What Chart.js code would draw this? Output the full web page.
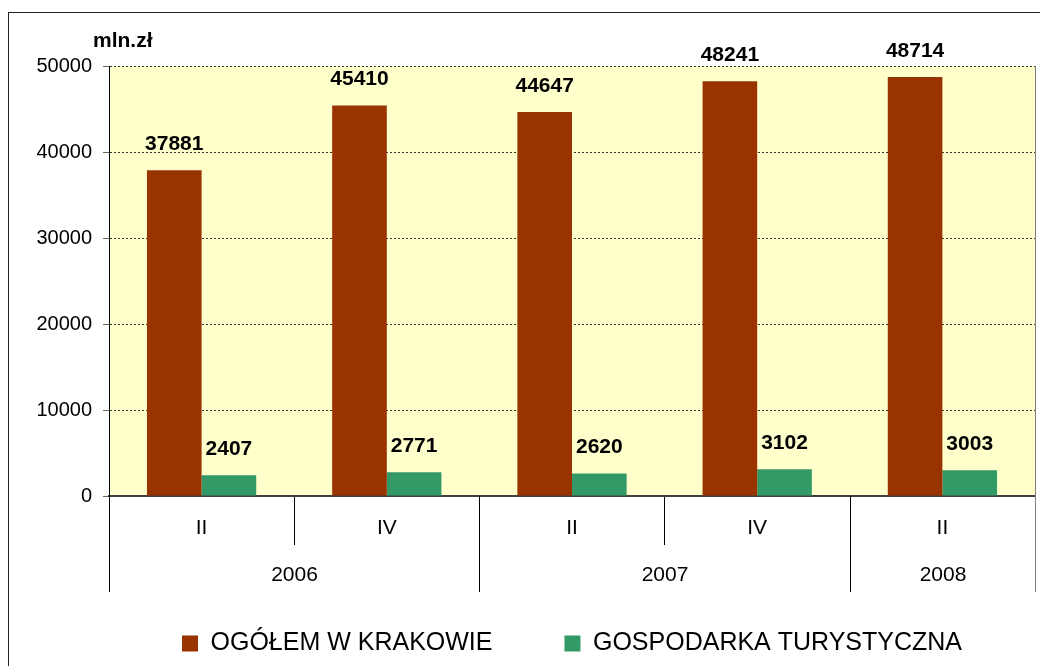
<!DOCTYPE html>
<html lang="pl">
<head>
<meta charset="utf-8">
<title>Kraków - ogółem i gospodarka turystyczna</title>
<script src="https://cdn.jsdelivr.net/npm/chart.js@4.4.1/dist/chart.umd.min.js"></script>
<style>
    html, body { margin: 0; padding: 0; background: #fff; }
    #wrap { position: relative; width: 1040px; height: 666px; }
</style>
</head>
<body>
<div id="wrap"><canvas id="chart"></canvas></div>
<script>
// ---- data ----
const quarters = ['II', 'IV', 'II', 'IV', 'II'];
const quarterYears = ['2006', '2006', '2007', '2007', '2008'];
const totalKrakow = [37881, 45410, 44647, 48241, 48714];
const tourism = [2407, 2771, 2620, 3102, 3003];
const yTicks = [0, 10000, 20000, 30000, 40000, 50000];

const FONT = "'Liberation Sans', Arial, sans-serif";

// is the line before category i the start of a new year?
const yearEdge = i => i <= 0 || i >= quarters.length || quarterYears[i] !== quarterYears[i - 1];

// frame round the whole chart + yellow plot area
const framePlugin = {
    id: 'frame',
    beforeDraw(chart) {
        const { ctx, chartArea: a } = chart;
        ctx.save();
        ctx.strokeStyle = '#222';
        ctx.lineWidth = 1;
        ctx.strokeRect(8.5, 12.5, 1200, 1000);
        ctx.fillStyle = '#FFFFCC';
        ctx.fillRect(a.left, a.top, a.right - a.left, a.bottom - a.top);
        ctx.restore();
    }
};

// year row under the quarter labels
const yearRowPlugin = {
    id: 'yearRow',
    afterDraw(chart) {
        const { ctx, chartArea: a } = chart;
        const x = chart.scales.x;
        const edge = i => {
            if (i <= 0) return a.left;
            if (i >= quarters.length) return a.right;
            return (x.getPixelForTick(i - 1) + x.getPixelForTick(i)) / 2;
        };
        ctx.save();
        ctx.lineWidth = 1;
        ctx.fillStyle = '#000';
        ctx.font = '21px ' + FONT;
        ctx.textAlign = 'center';
        ctx.textBaseline = 'middle';
        let start = 0;
        for (let i = 1; i <= quarters.length; i++) {
            if (yearEdge(i)) {
                const x0 = Math.round(edge(start)) + 0.5;
                const x1 = Math.round(edge(i)) + 0.5;
                ctx.fillText(quarterYears[start], (x0 + x1) / 2, 575);
                start = i;
            }
        }
        for (let i = 0; i < quarters.length; i++) {
            if (!yearEdge(i)) continue;
            const px = Math.round(edge(i)) + 0.5;
            ctx.strokeStyle = '#000';
            ctx.beginPath();
            ctx.moveTo(px, a.bottom); ctx.lineTo(px, 592);
            ctx.stroke();
        }
        // grey right edge of the plot, down through the label rows
        const rx = Math.round(a.right) + 0.5;
        ctx.strokeStyle = '#808080';
        ctx.beginPath();
        ctx.moveTo(rx, a.top); ctx.lineTo(rx, 592);
        ctx.stroke();
        // unit label above the value axis
        ctx.font = 'bold 21px ' + FONT;
        ctx.textAlign = 'left';
        ctx.fillText('mln.zł', a.left - 16, a.top - 25);
        ctx.restore();
    }
};

// values over the bars
const valueLabels = {
    id: 'valueLabels',
    afterDatasetsDraw(chart) {
        const { ctx } = chart;
        ctx.save();
        ctx.font = 'bold 21px ' + FONT;
        ctx.fillStyle = '#000';
        ctx.textAlign = 'center';
        ctx.textBaseline = 'middle';
        chart.data.datasets.forEach((ds, di) => {
            chart.getDatasetMeta(di).data.forEach((bar, i) => {
                ctx.fillText(String(ds.data[i]), bar.x, bar.y - 26);
            });
        });
        ctx.restore();
    }
};

new Chart(document.getElementById('chart'), {
    type: 'bar',
    data: {
        labels: quarters,
        datasets: [{
            label: 'OGÓŁEM W KRAKOWIE',
            data: totalKrakow,
            backgroundColor: '#993300',
            categoryPercentage: 0.59,
            barPercentage: 1.0
        }, {
            label: 'GOSPODARKA TURYSTYCZNA',
            data: tourism,
            backgroundColor: '#339966',
            categoryPercentage: 0.59,
            barPercentage: 1.0
        }]
    },
    options: {
        responsive: true,
        maintainAspectRatio: false,
        animation: false,
        layout: { padding: { left: 9, top: 66, right: 5, bottom: 0 } },
        plugins: {
            legend: {
                position: 'bottom',
                fullSize: false,
                labels: {
                    color: '#000',
                    font: { family: FONT, size: 25 },
                    boxWidth: 16,
                    boxHeight: 16,
                    padding: 72
                }
            },
            tooltip: { enabled: false }
        },
        scales: {
            x: {
                afterFit: s => { s.height = 63; },
                ticks: {
                    color: '#000',
                    font: { family: FONT, size: 21 },
                    padding: -29
                },
                grid: {
                    offset: true,
                    drawOnChartArea: false,
                    color: c => (c.index === undefined || yearEdge(c.index)) ? 'rgba(0,0,0,0)' : '#000',
                    tickLength: 49
                },
                border: { color: '#404040', width: 2 }
            },
            y: {
                min: 0,
                max: 50000,
                afterFit: s => { s.width = 100; },
                afterBuildTicks: s => { s.ticks = yTicks.map(v => ({ value: v })); },
                ticks: {
                    color: '#000',
                    font: { family: FONT, size: 20 },
                    padding: 11,
                    callback: v => String(v)
                },
                grid: {
                    color: c => c.tick && c.tick.value === 0 ? 'rgba(0,0,0,0)' : '#333',
                    tickColor: '#666',
                    tickLength: 6,
                    tickBorderDash: []
                },
                border: { color: '#000', width: 1, dash: [2, 2] }
            }
        }
    },
    plugins: [framePlugin, yearRowPlugin, valueLabels]
});
</script>
</body>
</html>
